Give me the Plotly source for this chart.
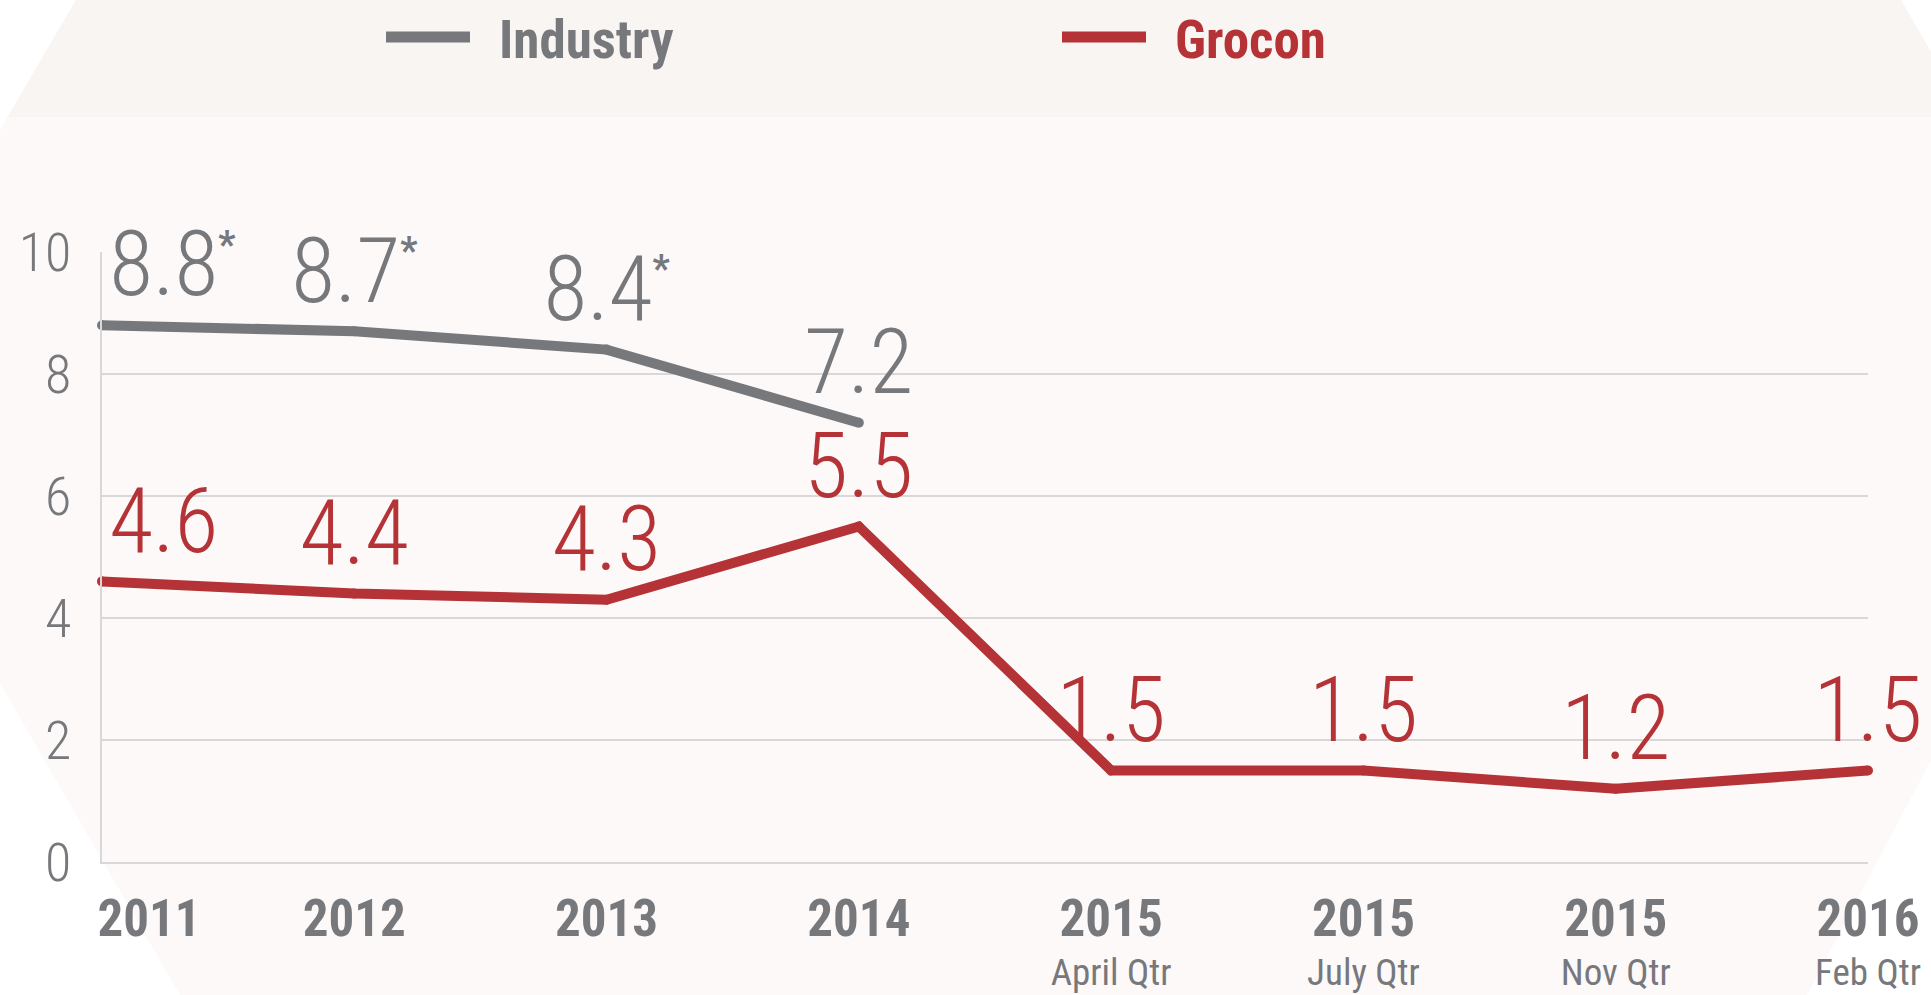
import plotly.graph_objects as go

# ---- data ----
categories = ["2011", "2012", "2013", "2014", "2015 April Qtr", "2015 July Qtr", "2015 Nov Qtr", "2016 Feb Qtr"]
tick_years = ["2011", "2012", "2013", "2014", "2015", "2015", "2015", "2016"]
tick_subs = ["", "", "", "", "April Qtr", "July Qtr", "Nov Qtr", "Feb Qtr"]
industry = [8.8, 8.7, 8.4, 7.2]
industry_notes = ["*", "*", "*", ""]
grocon = [4.6, 4.4, 4.3, 5.5, 1.5, 1.5, 1.2, 1.5]
y_ticks = [0, 2, 4, 6, 8, 10]

GRAY = "#77787c"
RED = "#b53236"
GRID = "#d8d8da"
THIN = "Roboto Condensed, Liberation Sans Narrow, Roboto, sans-serif"
COND = "Liberation Sans Narrow, Roboto Condensed, Arial Narrow, sans-serif"

W, H = 1931, 995          # browser window
L, R, T, B = 102, 1868, 252, 862   # plot area in window pixels


def px(x):
    return (x - L) / (R - L)


def py(y):
    return (B - y) / (B - T)


x_idx = list(range(len(categories)))

ticktext = []
for i, (yr, sub) in enumerate(zip(tick_years, tick_subs)):
    pad = "&nbsp;" * 8 if i == 0 else ""
    s = f"<span style='font-size:51px'><b>{pad}{yr}</b></span>"
    if sub:
        s += f"<br>{sub}"
    ticktext.append(s)

STAR = "<sup><span style='font-size:38px;font-weight:700'>{}</span></sup>"
ind_text = [f"{v}" + (STAR.format(n) if n else "") for v, n in zip(industry, industry_notes)]
gro_text = [f"{v}" for v in grocon]

LABEL_SIZE = 90

fig = go.Figure()

fig.add_trace(go.Scatter(
    x=x_idx[:len(industry)], y=industry, name="Industry",
    mode="lines+markers+text",
    line=dict(color=GRAY, width=10),
    marker=dict(color=GRAY, size=10),
    text=ind_text,
    textposition=["top right"] + ["top center"] * (len(industry) - 1),
    textfont=dict(family=THIN, size=LABEL_SIZE, color=GRAY, weight=300),
    cliponaxis=False, hoverinfo="skip", showlegend=False,
))

fig.add_trace(go.Scatter(
    x=x_idx, y=grocon, name="Grocon",
    mode="lines+markers+text",
    line=dict(color=RED, width=10),
    marker=dict(color=RED, size=10),
    text=gro_text,
    textposition=["top right"] + ["top center"] * (len(grocon) - 1),
    textfont=dict(family=THIN, size=LABEL_SIZE, color=RED, weight=300),
    cliponaxis=False, hoverinfo="skip", showlegend=False,
))

# background decoration (window pixel coordinates)
bg_outer = [(76, 0), (1901, 0), (1931, 52), (1931, 760), (1807, 995), (180, 995), (0, 683), (0, 130)]
bg_band = [(76, 0), (1901, 0), (1931, 52), (1931, 117), (7.6, 117)]


def path(pts):
    return "M " + " L ".join(f"{px(a):.5f},{py(b):.5f}" for a, b in pts) + " Z"


shapes = [
    dict(type="path", xref="paper", yref="paper", path=path(bg_outer),
         fillcolor="#fcf9f8", line=dict(width=0), layer="below"),
    dict(type="path", xref="paper", yref="paper", path=path(bg_band),
         fillcolor="#f9f5f3", line=dict(width=0), layer="below"),
    # legend swatches
    dict(type="line", xref="paper", yref="paper", x0=px(386), x1=px(470), y0=py(37), y1=py(37),
         line=dict(color=GRAY, width=11), layer="above"),
    dict(type="line", xref="paper", yref="paper", x0=px(1062), x1=px(1146), y0=py(37), y1=py(37),
         line=dict(color=RED, width=11), layer="above"),
]

annotations = [
    dict(xref="paper", yref="paper", x=px(497), y=py(40), xanchor="left", yanchor="middle",
         text="<b>Industry</b>", showarrow=False, font=dict(family=COND, size=53, color=GRAY)),
    dict(xref="paper", yref="paper", x=px(1173), y=py(40), xanchor="left", yanchor="middle",
         text="<b>Grocon</b>", showarrow=False, font=dict(family=COND, size=53, color=RED)),
]

fig.update_layout(
    width=W, height=H, autosize=False,
    margin=dict(l=L, r=W - R, t=T, b=H - B, pad=0, autoexpand=False),
    paper_bgcolor="white", plot_bgcolor="rgba(0,0,0,0)",
    shapes=shapes, annotations=annotations,
    showlegend=False,
    xaxis=dict(
        range=[0, len(categories) - 1], tickmode="array", tickvals=x_idx, ticktext=ticktext,
        showgrid=False, zeroline=False, showline=True, linecolor=GRID, linewidth=2,
        ticks="", ticklabelstandoff=28, automargin=False,
        tickfont=dict(family=COND, size=37, color=GRAY),
    ),
    yaxis=dict(
        range=[0, 10], tickmode="array", tickvals=y_ticks,
        showgrid=True, gridcolor=GRID, gridwidth=2,
        zeroline=False, showline=True, linecolor=GRID, linewidth=2,
        ticks="", ticklabelstandoff=18, automargin=False,
        tickfont=dict(family=THIN, size=54, color=GRAY, weight=300),
    ),
)

fig.write_html(
    "out.html",
    config={"displayModeBar": False},
    post_script="document.body.style.margin='0';document.body.style.overflow='hidden';",
)
